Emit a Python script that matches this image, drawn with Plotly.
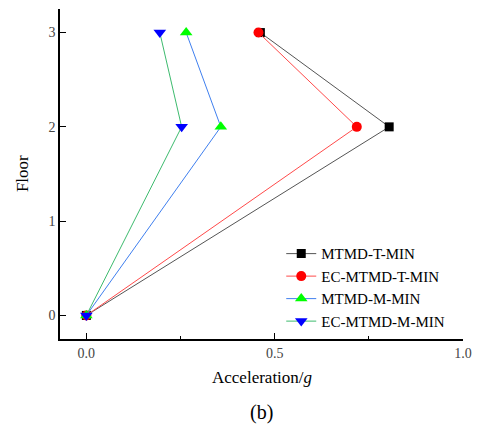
import plotly.graph_objects as go

floors = [0, 2, 3]
mtmd_t_min = [0.0, 0.804, 0.462]
ec_mtmd_t_min = [0.0, 0.718, 0.457]
mtmd_m_min = [0.0, 0.357, 0.265]
ec_mtmd_m_min = [0.0, 0.253, 0.195]

series = [
    ("MTMD-T-MIN", mtmd_t_min, "#555555", "square", "#000000", 9),
    ("EC-MTMD-T-MIN", ec_mtmd_t_min, "#ff4a4a", "circle", "#ff0000", 10),
    ("MTMD-M-MIN", mtmd_m_min, "#3f7fef", "triangle-up", "#00ff00", 11),
    ("EC-MTMD-M-MIN", ec_mtmd_m_min, "#3dbb6e", "triangle-down", "#0000ff", 11),
]

fig = go.Figure()
for name, xs, lc, sym, mc, ms in series:
    fig.add_trace(go.Scatter(
        x=xs, y=floors, name=name, mode="lines+markers",
        line=dict(color=lc, width=1),
        marker=dict(symbol=sym, color=mc, size=ms, line=dict(width=0)),
    ))

font_family = "Liberation Serif, Times New Roman, serif"
fig.update_layout(
    width=481, height=426,
    margin=dict(l=60, r=12, t=9, b=87),
    plot_bgcolor="white", paper_bgcolor="white",
    font=dict(family=font_family, color="#000"),
    legend=dict(
        x=0.549, y=0.308, xanchor="left", yanchor="top",
        font=dict(family=font_family, size=15, color="#000"),
        bgcolor="rgba(0,0,0,0)", tracegroupgap=0,
    ),
    xaxis=dict(
        range=[-0.07, 1.0], tickvals=[0.0, 0.5, 1.0], ticktext=["0.0", "0.5", "1.0"],
        ticks="inside", ticklen=6, tickwidth=1.2, tickcolor="#000",
        minor=dict(tickvals=[0.25, 0.75], ticks="inside", ticklen=3, tickcolor="#000", tickwidth=1.2),
        showline=True, linecolor="#000", linewidth=1.5, showgrid=False, zeroline=False,
        tickfont=dict(family=font_family, size=14, color="#444"),
    ),
    yaxis=dict(
        range=[-0.25, 3.25], tickvals=[0, 1, 2, 3],
        ticks="inside", ticklen=6, tickwidth=1.2, tickcolor="#000",
        showline=True, linecolor="#000", linewidth=1.5, showgrid=False, zeroline=False,
        tickfont=dict(family=font_family, size=14, color="#444"),
    ),
    annotations=[
        dict(text="Acceleration/<i>g</i>", x=0.5, y=-0.082, xref="paper", yref="paper",
             xanchor="center", yanchor="top", showarrow=False,
             font=dict(family=font_family, size=17, color="#000")),
        dict(text="(b)", x=0.5, y=-0.182, xref="paper", yref="paper",
             xanchor="center", yanchor="top", showarrow=False,
             font=dict(family=font_family, size=20, color="#000")),
        dict(text="Floor", x=-0.094, y=0.5, xref="paper", yref="paper", textangle=-90,
             xanchor="center", yanchor="middle", showarrow=False,
             font=dict(family=font_family, size=17, color="#000")),
    ],
)

fig.write_html(
    "out.html",
    config={"displayModeBar": False},
    post_script="document.body.style.margin='0';document.body.style.overflow='hidden';",
)
